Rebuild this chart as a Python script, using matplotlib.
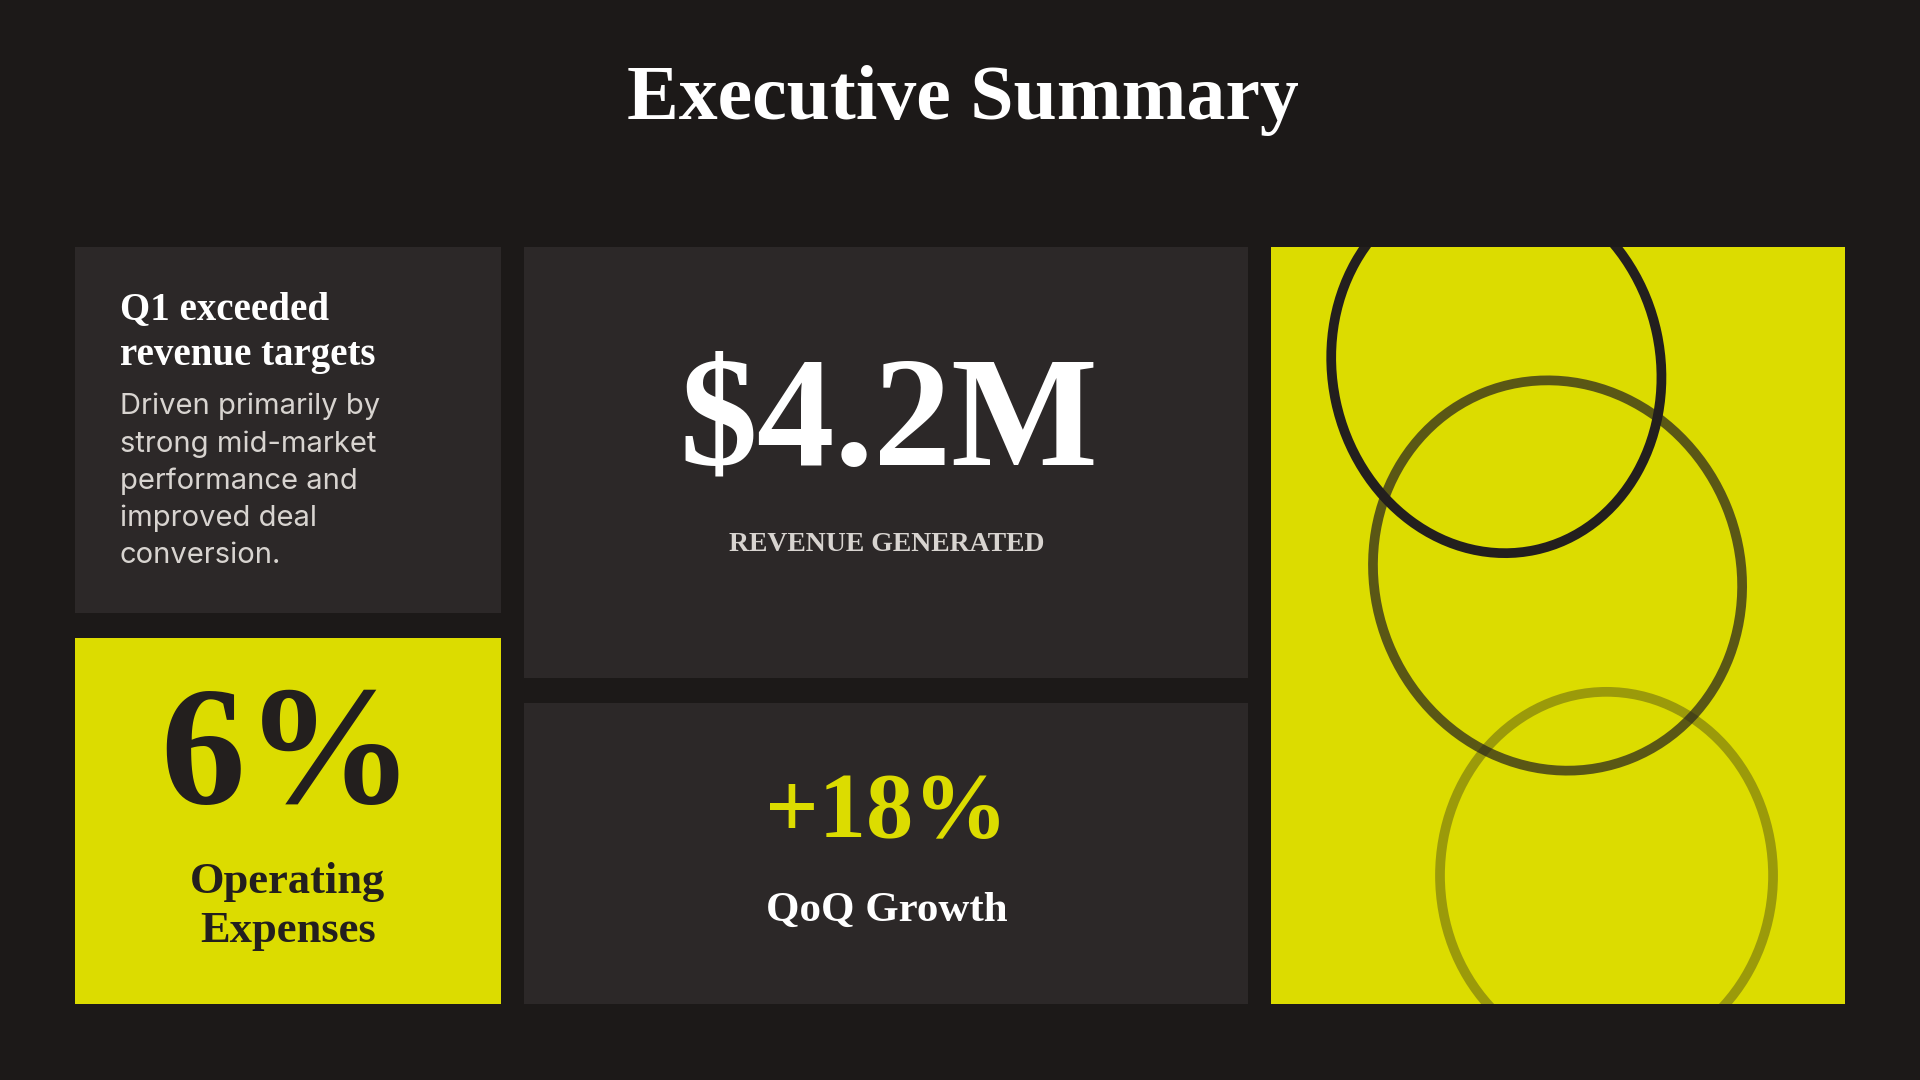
import matplotlib.pyplot as plt
from matplotlib.patches import Rectangle, Ellipse

# content
title = "Executive Summary"
headline = ["Q1 exceeded", "revenue targets"]
body = ["Driven primarily by", "strong mid-market", "performance and", "improved deal", "conversion."]
kpi_labels = ["REVENUE GENERATED", "Operating", "Expenses", "QoQ Growth"]
kpi_values = ["$4.2M", "6%", "+18%"]

BG = "#1c1918"
CARD = "#2c2828"
LIME = "#dcdc00"
SERIF = ["Liberation Serif", "DejaVu Serif"]
SANS = ["Inter", "DejaVu Sans"]

fig = plt.figure(figsize=(19.2, 10.8), dpi=100)
fig.patch.set_facecolor(BG)
ax = fig.add_axes([0, 0, 1, 1])
ax.set_xlim(0, 1568)
ax.set_ylim(882, 0)
ax.axis("off")

def card(x0, y0, x1, y1, c):
    r = Rectangle((x0, y0), x1 - x0, y1 - y0, facecolor=c, edgecolor="none")
    ax.add_patch(r)
    return r

ax.text(786, 82, title, ha="center", va="center", color="white",
        fontsize=56, fontweight="bold", family=SERIF)

card(61, 202, 409, 501, CARD)
card(61, 521, 409, 820, LIME)
card(428, 202, 1019, 554, CARD)
card(428, 574, 1019, 820, CARD)
right = card(1038, 202, 1507, 820, LIME)

# headline card
for i, s in enumerate(headline):
    ax.text(98, 253 + i * 37, s, ha="left", va="center", color="white",
            fontsize=28, fontweight="bold", family=SERIF)
for i, s in enumerate(body):
    ax.text(98, 332 + i * 30.5, s, ha="left", va="center", color="#d8d4d0",
            fontsize=21, family=SANS)

# revenue
ax.text(726, 348, kpi_values[0], ha="center", va="center", color="white",
        fontsize=112, fontweight="bold", family=SERIF)
ax.text(724, 445, kpi_labels[0], ha="center", va="center", color="#d8d4d0",
        fontsize=20, fontweight="bold", family=SERIF)

# opex
ax.text(235, 622, kpi_values[1], ha="center", va="center", color="#231f1e",
        fontsize=122, fontweight="bold", family=SERIF)
ax.text(235, 720, kpi_labels[1], ha="center", va="center", color="#231f1e",
        fontsize=32, fontweight="bold", family=SERIF)
ax.text(235, 760, kpi_labels[2], ha="center", va="center", color="#231f1e",
        fontsize=32, fontweight="bold", family=SERIF)

# growth
ax.text(724, 665, kpi_values[2], ha="center", va="center", color=LIME,
        fontsize=68, fontweight="bold", family=SERIF)
ax.text(724, 744, kpi_labels[3], ha="center", va="center", color="white",
        fontsize=31, fontweight="bold", family=SERIF)

# decorative rings
rings = [((1222, 300), 268, 305, -12, 1.0),
         ((1272, 470), 298, 322, -22, 0.7),
         ((1312, 715), 272, 300, 0, 0.35)]
for (cx, cy), w, h, ang, a in rings:
    e = Ellipse((cx, cy), w, h, angle=ang, fill=False, edgecolor="#231f1e",
                linewidth=7, alpha=a)
    ax.add_patch(e)
    e.set_clip_path(right)

fig.savefig("out.png", dpi=100, facecolor=BG)
